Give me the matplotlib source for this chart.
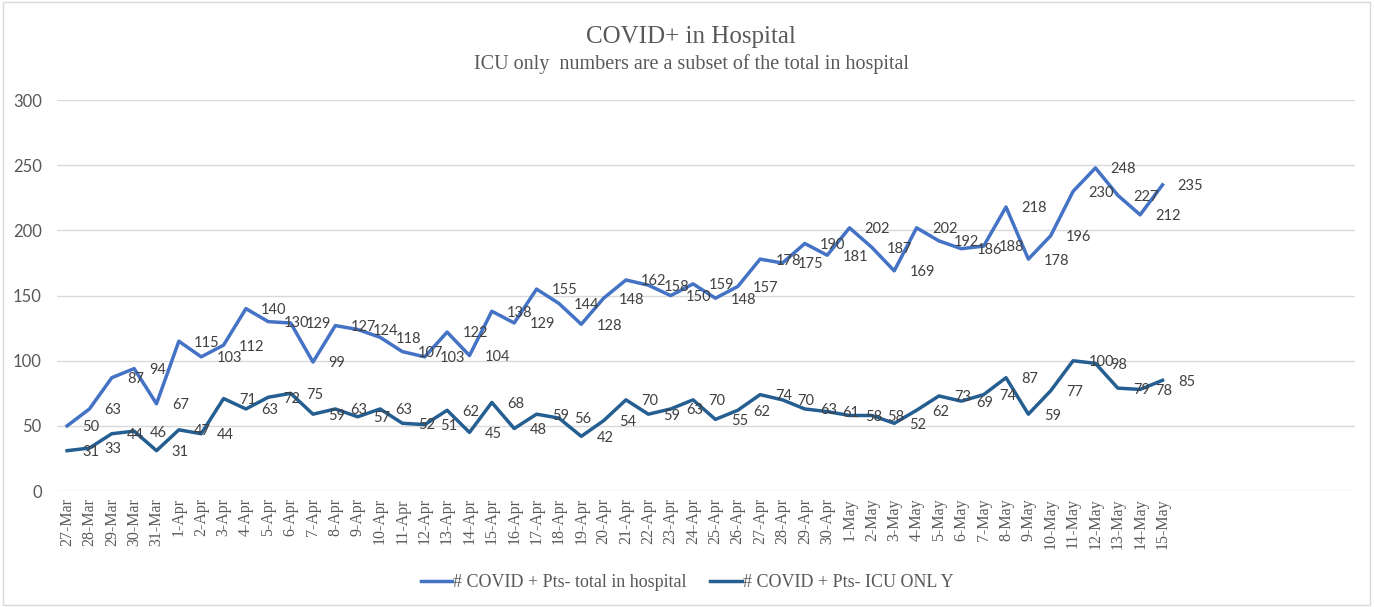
import matplotlib.pyplot as plt
import matplotlib.patches as mpatches

dates = ['27-Mar', '28-Mar', '29-Mar', '30-Mar', '31-Mar'] + \
        ['%d-Apr' % d for d in range(1, 31)] + \
        ['%d-May' % d for d in range(1, 16)]

total = [50, 63, 87, 94, 67, 115, 103, 112, 140, 130,
         129, 99, 127, 124, 118, 107, 103, 122, 104, 138,
         129, 155, 144, 128, 148, 162, 158, 150, 159, 148,
         157, 178, 175, 190, 181, 202, 187, 169, 202, 192,
         186, 188, 218, 178, 196, 230, 248, 227, 212, 235]

icu = [31, 33, 44, 46, 31, 47, 44, 71, 63, 72,
       75, 59, 63, 57, 63, 52, 51, 62, 45, 68,
       48, 59, 56, 42, 54, 70, 59, 63, 70, 55,
       62, 74, 70, 63, 61, 58, 58, 52, 62, 73,
       69, 74, 87, 59, 77, 100, 98, 79, 78, 85]

c_total = '#4472C4'
c_icu = '#255E91'
grey = '#595959'
serif = 'Liberation Serif'
sans = 'Lato'

fig = plt.figure(figsize=(13.74, 6.07), dpi=100)
ax = fig.add_axes([0.0415, 0.191, 0.9445, 0.644])

x = list(range(len(dates)))
ax.plot(x, total, color=c_total, lw=2.5, label='# COVID + Pts- total in hospital', zorder=3)
ax.plot(x, icu, color=c_icu, lw=2.5, label='# COVID + Pts- ICU ONL Y', zorder=3)

for i in x:
    ax.annotate(str(total[i]), (i, total[i]), xytext=(11, -1), textcoords='offset points',
                ha='left', va='center', fontsize=10.5, color='#404040', family=sans)
    ax.annotate(str(icu[i]), (i, icu[i]), xytext=(11, -1), textcoords='offset points',
                ha='left', va='center', fontsize=10.5, color='#404040', family=sans)

ax.set_xlim(-0.45, 57.6)
ax.set_ylim(0, 300)
ax.set_yticks(range(0, 301, 50))
ax.set_xticks(x)
ax.set_xticklabels(dates, rotation=90, family=serif, fontsize=11.5, color=grey)
ax.tick_params(axis='y', labelsize=12, labelcolor=grey, length=0, pad=11)
ax.tick_params(axis='x', length=0, pad=5)
for lab in ax.get_yticklabels():
    lab.set_family(sans)
ax.grid(axis='y', color='#D9D9D9', lw=1)
ax.set_axisbelow(True)
for s in ax.spines.values():
    s.set_visible(False)

fig.text(0.503, 0.939, 'COVID+ in Hospital', ha='center', va='center',
         family=serif, fontsize=18, color=grey)
fig.text(0.503, 0.894, 'ICU only  numbers are a subset of the total in hospital', ha='center',
         va='center', family=serif, fontsize=14.5, color=grey)

leg = fig.legend(loc='center', bbox_to_anchor=(0.5, 0.04), ncol=2, frameon=False,
                 prop={'family': serif, 'size': 13}, handlelength=1.75, columnspacing=1.3,
                 handletextpad=0.05)
for t in leg.get_texts():
    t.set_color(grey)

fig.patches.append(mpatches.Rectangle((0.002, 0.003), 0.995, 0.993, transform=fig.transFigure,
                                      fill=False, edgecolor='#D9D9D9', lw=1))

fig.savefig('out.png', dpi=100)
